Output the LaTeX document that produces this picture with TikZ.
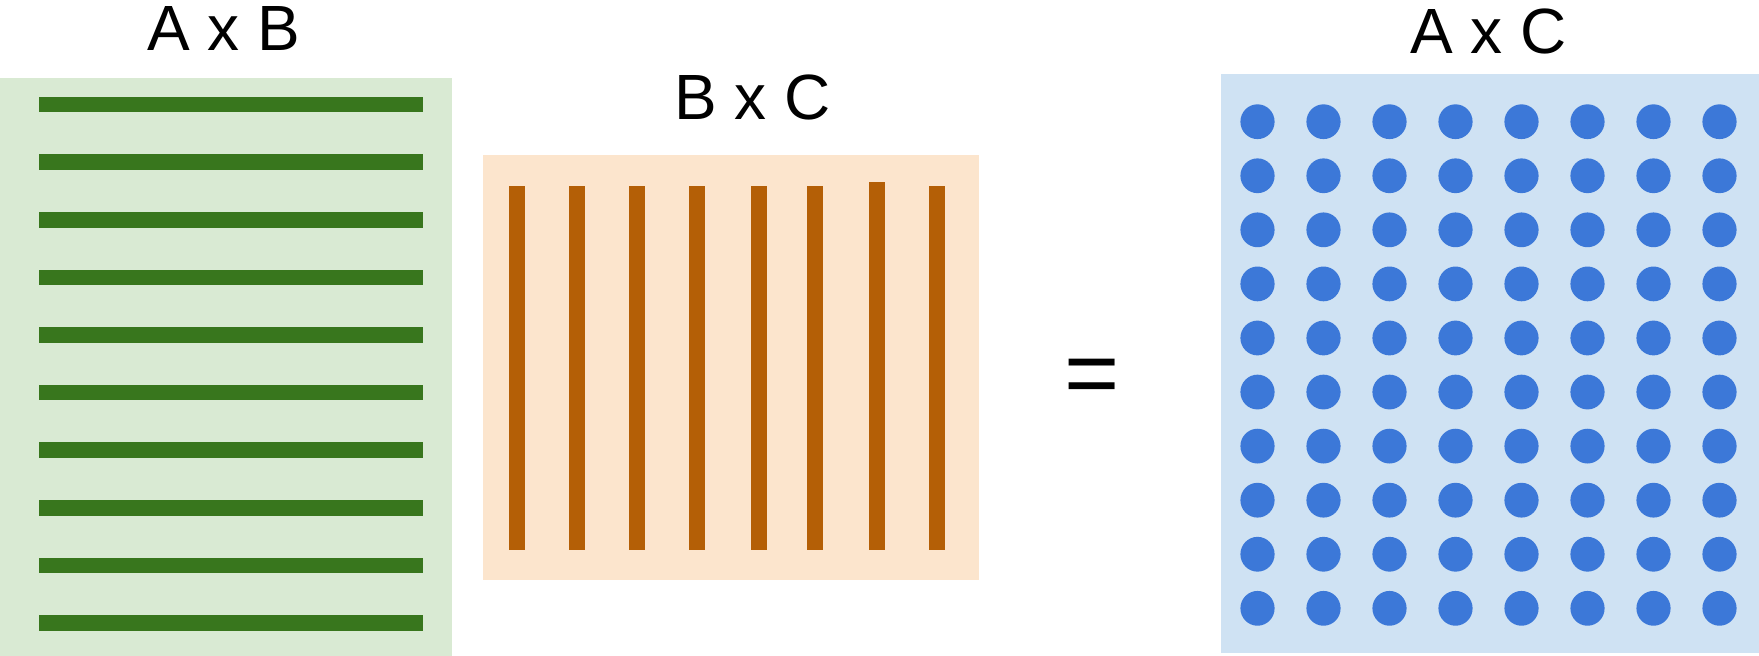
\documentclass[tikz,border=0pt]{standalone}
\usepackage{fontspec}
\setmainfont{Liberation Sans}
\definecolor{abfill}{HTML}{D9EAD3}
\definecolor{abbar}{HTML}{38761D}
\definecolor{bcfill}{HTML}{FCE5CD}
\definecolor{bcbar}{HTML}{B45F06}
\definecolor{acfill}{HTML}{CFE2F3}
\definecolor{acdot}{HTML}{3C78D8}

\begin{document}
\begin{tikzpicture}[x=0.02cm,y=-0.02cm,
  title/.style={font=\fontsize{36.4}{40}\selectfont,anchor=base,inner sep=0pt}]
  \useasboundingbox (0,0) rectangle (1759,656);
  % A x B: rows
  \fill[abfill] (0.5,77.7) rectangle (451.7,656);
  \foreach \i in {0,...,9}
    \fill[abbar] (39.3,{96.7+57.6*\i}) rectangle (423.3,{112.4+57.6*\i});
  \node[title] (abtitle) at (224,50.7) {A x B};
  % B x C: columns
  \fill[bcfill] (483,155) rectangle (979,580);
  \foreach \x/\t in {517.3/185.7,577.4/185.7,637.2/185.7,696.9/185.7,759.1/185.7,814.7/185.7,876.7/181.7,936.8/185.7}
    \fill[bcbar] ({\x-8},\t) rectangle ({\x+8},550);
  \node[title] (bctitle) at (752.7,119.3) {B x C};
  % equals
  \node[font=\fontsize{53.8}{60}\selectfont,inner sep=0pt] (eq) at (1092,382) {=};
  % A x C: entries
  \fill[acfill] (1221,74) rectangle (1759,652.7);
  \foreach \c in {0,...,7}
    \foreach \r in {0,...,9}
      \fill[acdot] ({1257.5+66*\c},{121.7+54.07*\r}) ellipse[x radius=0.342cm,y radius=0.348cm];
  \node[title] (actitle) at (1488.7,53.3) {A x C};
\end{tikzpicture}
\end{document}
